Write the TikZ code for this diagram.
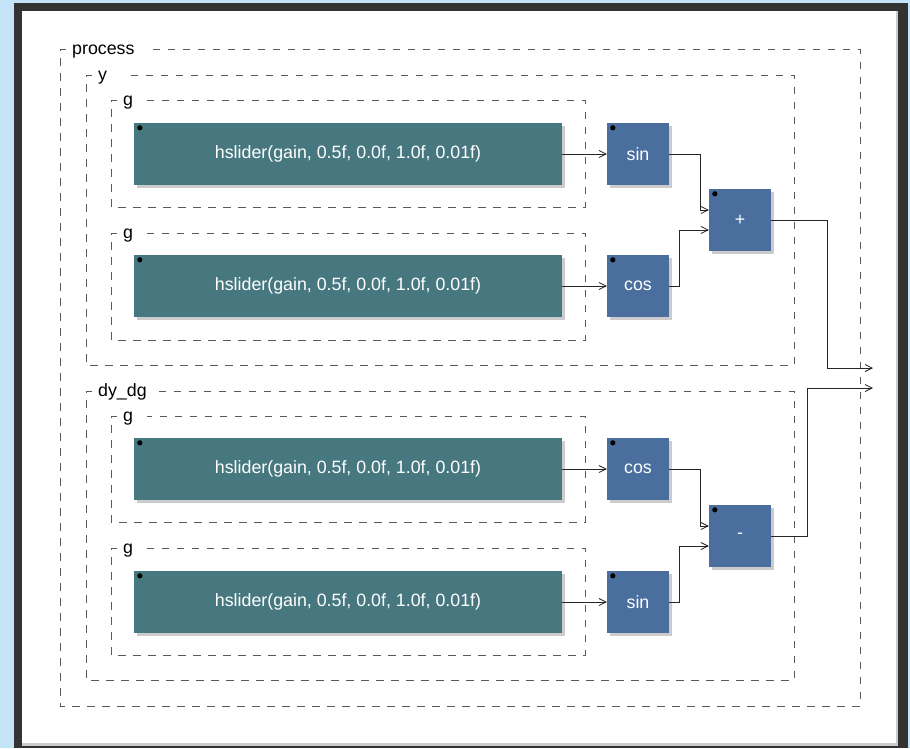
\documentclass[tikz,border=0pt]{standalone}
\usepackage{fontspec}
\setmainfont{Liberation Sans}
\usetikzlibrary{arrows.meta,shadows}

\begin{document}
\begin{tikzpicture}[x=1pt,y=-1pt,font=\fontsize{17.8}{21}\selectfont,
  wire/.style={draw=black!85,line width=.8pt},
  arr/.style={wire,-{Straight Barb[length=7pt,width=7pt]}},
  box/.style={inner sep=0,minimum width=62pt,minimum height=62pt,
    fill=blk,text=white,
    general shadow={fill=black!20,shadow xshift=3pt,shadow yshift=-3pt}},
  slider/.style={box,fill=sld,minimum width=428pt},
  grp/.style={draw=black!65,line width=.8pt,dash pattern=on 7.5pt off 7.5pt}]
 \definecolor{sky}{RGB}{198,228,248}
 \definecolor{frm}{RGB}{51,51,51}
 \definecolor{sld}{RGB}{71,120,128}
 \definecolor{blk}{RGB}{74,111,159}
 \useasboundingbox (0,0) rectangle (910,748);
 \fill[sky] (0,0) rectangle (910,748);
 \fill[frm] (14,3) rectangle (908,748);
 \fill[black!20] (22,11) rectangle (898,746);
 \fill[white] (22,11) rectangle (896,743);
 % groups
 \foreach \nm/\lab/\xa/\ya/\xb/\yb/\off in {
   process/process/60/49/860/706/87,
   y/y/86/75/794/365/37,
   ya/g/111/100/585/207/36,
   yb/g/111/233/585/340/36,
   dydg/dy\_dg/86/391/794/680/70,
   da/g/111/416/585/522/36,
   db/g/111/548/585/655/36
 } {
   \draw[grp] (\xa+6,\ya) -- (\xa,\ya) -- (\xa,\yb) -- (\xb,\yb)
     -- (\xb,\ya) -- (\xa+\off,\ya);
   \node[anchor=base west,inner sep=0] (lab-\nm) at (\xa+12,\ya+5) {\lab};
 }
 % blocks
 \node[slider] (sl1) at (348,154) {hslider(gain, 0.5f, 0.0f, 1.0f, 0.01f)};
 \node[slider] (sl2) at (348,286) {hslider(gain, 0.5f, 0.0f, 1.0f, 0.01f)};
 \node[slider] (sl3) at (348,469) {hslider(gain, 0.5f, 0.0f, 1.0f, 0.01f)};
 \node[slider] (sl4) at (348,602) {hslider(gain, 0.5f, 0.0f, 1.0f, 0.01f)};
 \node[box] (sin1) at (638,154) {sin};
 \node[box] (cos2) at (638,286) {cos};
 \node[box] (add) at (740,220) {+};
 \node[box] (cos3) at (638,469) {cos};
 \node[box] (sin4) at (638,602) {sin};
 \node[box] (sub) at (740,536) {-};
 \foreach \n in {sl1,sl2,sl3,sl4,sin1,cos2,add,cos3,sin4,sub}
   \fill ([shift={(6,5)}]\n.north west) circle (2.6);
 \coordinate (out1) at (873,368);
 \coordinate (out2) at (873,388);
 % wires
 \draw[arr] (sl1) -- (sin1);
 \draw[arr] (sl2) -- (cos2);
 \draw[arr] (sl3) -- (cos3);
 \draw[arr] (sl4) -- (sin4);
 \draw[arr] (sin1.east) -- ++(31,0) |- ([yshift=10pt]add.west);
 \draw[arr] (cos2.east) -- ++(10,0) |- ([yshift=-10pt]add.west);
 \draw[arr] (cos3.east) -- ++(31,0) |- ([yshift=10pt]sub.west);
 \draw[arr] (sin4.east) -- ++(10,0) |- ([yshift=-10pt]sub.west);
 \draw[arr] (add.east) -- ++(56,0) |- (out1);
 \draw[arr] (sub.east) -- ++(36,0) |- (out2);
\end{tikzpicture}
\end{document}
